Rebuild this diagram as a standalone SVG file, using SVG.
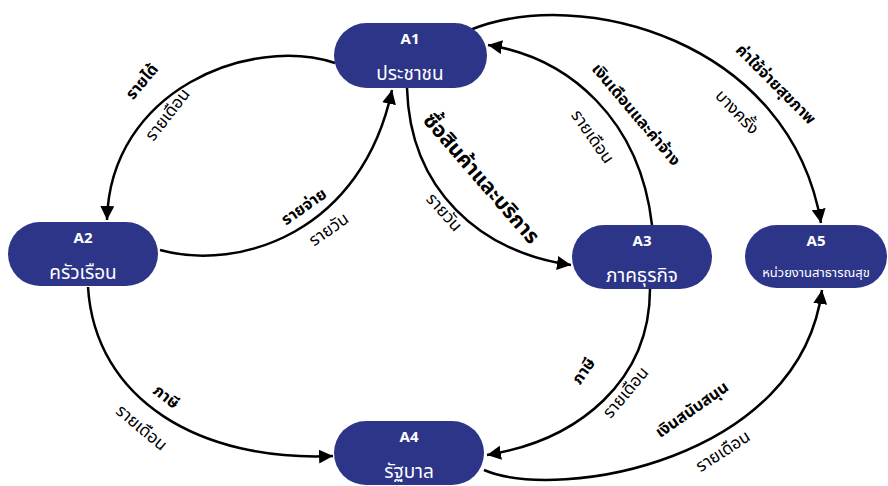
<svg xmlns="http://www.w3.org/2000/svg" width="888" height="486" viewBox="0 0 888 486">
<style>
.node{fill:#2d3589}
.t{font-family:"Noto Sans","Noto Sans Thai","DejaVu Sans",sans-serif;fill:#fff;text-anchor:middle}
.tt{font-weight:bold;font-size:15px}
.ts{font-size:19px}
.e{fill:none;stroke:#000;stroke-width:2.5;marker-end:url(#ah)}
.lb{font-family:"Noto Sans","Noto Sans Thai","DejaVu Sans",sans-serif;font-weight:bold;font-size:16px;fill:#000;text-anchor:middle}
.lr{font-family:"Noto Sans","Noto Sans Thai","DejaVu Sans",sans-serif;font-size:17px;fill:#000;text-anchor:middle}
</style>
<defs>
<marker id="ah" markerUnits="userSpaceOnUse" markerWidth="16" markerHeight="16" refX="14" refY="7" orient="auto">
<path d="M0,0 L14,7 L0,14 z" fill="#000"/>
</marker>
</defs>
<g id="connectors">
<path class="e" d="M335 63 C250 35 110 90 107 220"/>
<path class="e" d="M160 250 C240 272 362 232 392 90"/>
<path class="e" d="M407 88 C410 190 480 252 571 265"/>
<path class="e" d="M652 225 C640 120 570 58 488 45"/>
<path class="e" d="M470 30 C580 -15 790 40 821 223"/>
<path class="e" d="M88 287 C95 400 200 462 333 456"/>
<path class="e" d="M650 289 C650 380 580 440 487 455"/>
<path class="e" d="M484 470 C560 502 800 460 822 290"/>
<text class="lb" transform="translate(146,85) rotate(-50)">รายได้</text>
<text class="lr" transform="translate(172,118) rotate(-52)">รายเดือน</text>
<text class="lb" transform="translate(307,211) rotate(-35)">รายจ่าย</text>
<text class="lr" transform="translate(332,234) rotate(-35)">รายวัน</text>
<text class="lb" style="font-size:21px" transform="translate(476,183) rotate(49)">ซื้อสินค้าและบริการ</text>
<text class="lr" transform="translate(440,216) rotate(48)">รายวัน</text>
<text class="lb" transform="translate(632,118) rotate(50)">เงินเดือนและค่าจ้าง</text>
<text class="lr" transform="translate(588,140) rotate(55)">รายเดือน</text>
<text class="lb" transform="translate(772,88) rotate(45)">ค่าใช้จ่ายสุขภาพ</text>
<text class="lr" transform="translate(733,116) rotate(46)">บางครั้ง</text>
<text class="lb" transform="translate(163,401) rotate(38)">ภาษี</text>
<text class="lr" transform="translate(138,432) rotate(40)">รายเดือน</text>
<text class="lb" transform="translate(588,374) rotate(-55)">ภาษี</text>
<text class="lr" transform="translate(630,396) rotate(-50)">รายเดือน</text>
<text class="lb" transform="translate(695,414) rotate(-35)">เงินสนับสนุน</text>
<text class="lr" transform="translate(726,456) rotate(-33)">รายเดือน</text>
</g>
<g id="A1">
<rect class="node" x="334" y="23" width="153" height="65" rx="32.5"/>
<text class="t tt" x="410" y="44">A1</text>
<text class="t ts" x="410" y="80">ประชาชน</text>
</g>
<g id="A2">
<rect class="node" x="8" y="222" width="150" height="64" rx="32"/>
<text class="t tt" x="83" y="243">A2</text>
<text class="t ts" x="83" y="279">ครัวเรือน</text>
</g>
<g id="A3">
<rect class="node" x="572" y="225" width="140" height="64" rx="32"/>
<text class="t tt" x="642" y="246">A3</text>
<text class="t ts" x="642" y="282">ภาคธุรกิจ</text>
</g>
<g id="A4">
<rect class="node" x="334" y="421" width="150" height="64" rx="32"/>
<text class="t tt" x="409" y="442">A4</text>
<text class="t ts" x="409" y="478">รัฐบาล</text>
</g>
<g id="A5">
<rect class="node" x="745" y="225" width="142" height="63" rx="31.5"/>
<text class="t tt" x="816" y="246">A5</text>
<text class="t" style="font-size:13px" x="816" y="277">หน่วยงานสาธารณสุข</text>
</g>
</svg>
